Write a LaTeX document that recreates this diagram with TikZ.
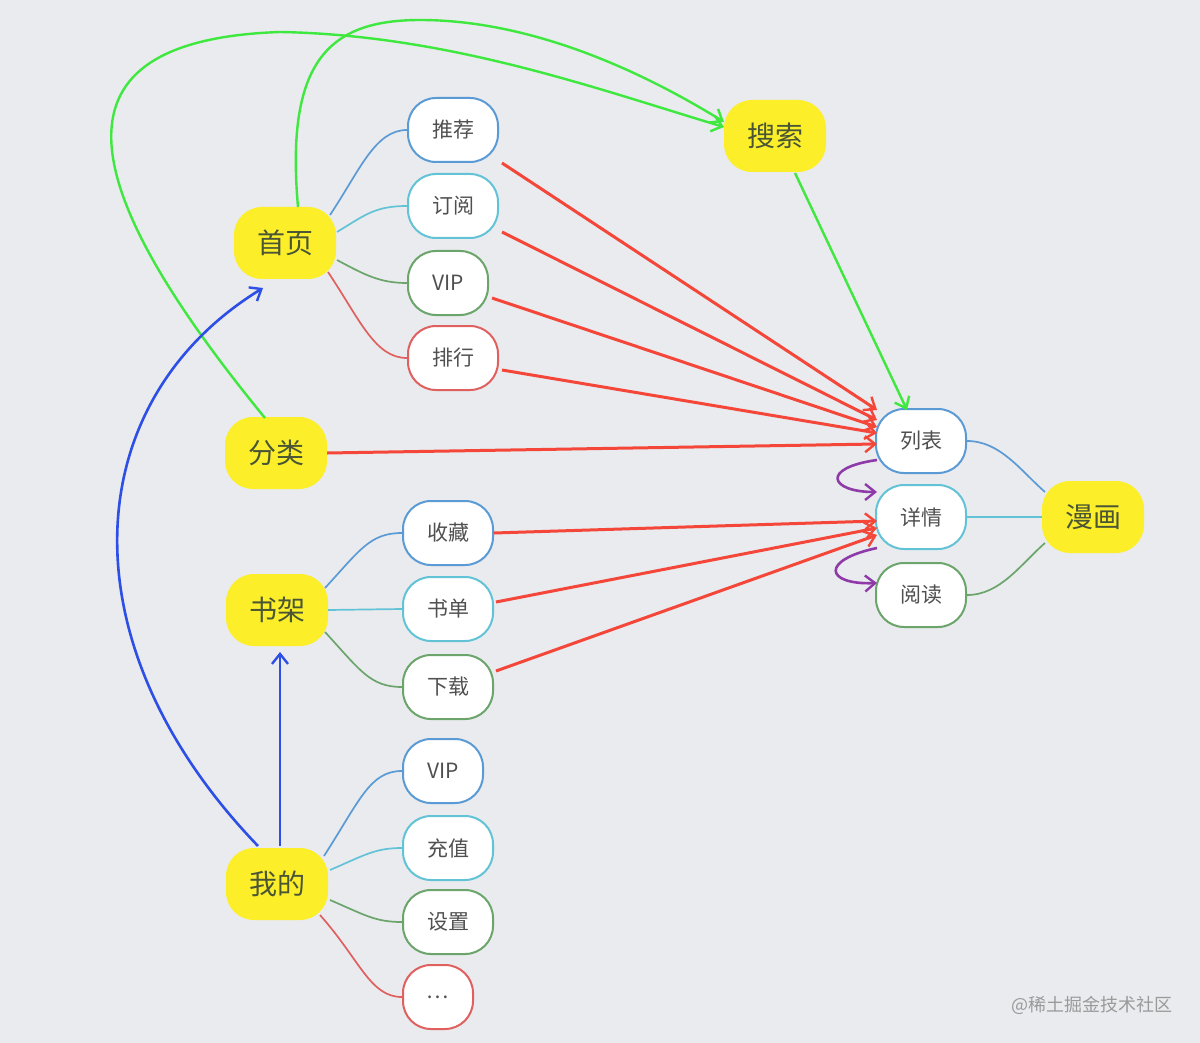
\documentclass[tikz,border=0pt]{standalone}
\usepackage{fontspec}
\setmainfont{Noto Sans CJK SC}
\usetikzlibrary{arrows.meta}
\definecolor{bg}{HTML}{E9EBEE}
\definecolor{yel}{HTML}{FCEF2A}
\definecolor{cblue}{HTML}{5B9BD5}
\definecolor{ccyan}{HTML}{62C3D6}
\definecolor{cgreen}{HTML}{6BA56B}
\definecolor{cred}{HTML}{E06060}
\definecolor{arred}{HTML}{F4473A}
\definecolor{argreen}{HTML}{3EE83E}
\definecolor{arblue}{HTML}{2D4FE6}
\definecolor{arpurple}{HTML}{8E3AA8}
\definecolor{tgray}{HTML}{505050}
\definecolor{tmain}{HTML}{4A5535}
\definecolor{wm}{HTML}{9A9A9A}
\tikzset{
  mainbox/.style={fill=yel, rounded corners=28pt, minimum width=102pt, minimum height=72pt, inner sep=0pt, font=\fontsize{28}{32}\selectfont, text=tmain},
  subbox/.style={fill=white, draw, line width=2pt, rounded corners=28pt, minimum width=90pt, minimum height=64pt, inner sep=0pt, font=\fontsize{21}{24}\selectfont, text=tgray},
  link/.style={line width=1.7pt},
  arr/.style={line width=3pt, -{Straight Barb[length=10pt,width=16pt,line width=2.4pt]}},
}
\begin{document}
\begin{tikzpicture}[x=1pt,y=-1pt]
\fill[bg] (0,0) rectangle (1200,1043);
\useasboundingbox (0,0) rectangle (1200,1043);
% main nodes
\node[mainbox] (home) at (285,243) {首页};
\node[mainbox] (ss) at (775,136) {搜索};
\node[mainbox] (fl) at (276,453) {分类};
\node[mainbox] (sj) at (277,610) {书架};
\node[mainbox] (wd) at (277,884) {我的};
\node[mainbox] (mh) at (1093,517) {漫画};
% sub nodes
\node[subbox, draw=cblue] (tj) at (453,130) {推荐};
\node[subbox, draw=ccyan] (dy) at (453,206) {订阅};
\node[subbox, draw=cgreen, minimum width=80pt] (vipa) at (448,283) {VIP};
\node[subbox, draw=cred] (ph) at (453,358) {排行};
\node[subbox, draw=cblue] (sc) at (448,533) {收藏};
\node[subbox, draw=ccyan] (sd) at (448,609) {书单};
\node[subbox, draw=cgreen] (xz) at (448,687) {下载};
\node[subbox, draw=cblue, minimum width=80pt] (vipb) at (443,771) {VIP};
\node[subbox, draw=ccyan] (cz) at (448,848) {充值};
\node[subbox, draw=cgreen] (sz) at (448,922) {设置};
\node[subbox, draw=cred, minimum width=70pt] (dots) at (438,997) {…};
\node[subbox, draw=cblue] (lb) at (921,441) {列表};
\node[subbox, draw=ccyan] (xq) at (921,517) {详情};
\node[subbox, draw=cgreen] (yd) at (921,595) {阅读};
% mind map links
\draw[link, cblue] ([shift={(45,-28)}]home.center) .. controls (360,170) and (375,130) .. (tj.west);
\draw[link, ccyan] ([shift={(52,-11)}]home.center) .. controls (365,215) and (375,206) .. (dy.west);
\draw[link, cgreen] ([shift={(52,17)}]home.center) .. controls (365,275) and (380,283) .. (vipa.west);
\draw[link, cred] ([shift={(43,29)}]home.center) .. controls (360,320) and (375,358) .. (ph.west);
\draw[link, cblue] ([shift={(48,-22)}]sj.center) .. controls (360,550) and (370,533) .. (sc.west);
\draw[link, ccyan] (sj.east) -- (sd.west);
\draw[link, cgreen] ([shift={(48,22)}]sj.center) .. controls (360,670) and (370,687) .. (xz.west);
\draw[link, cblue] ([shift={(47,-28)}]wd.center) .. controls (360,800) and (370,771) .. (vipb.west);
\draw[link, ccyan] ([shift={(53,-14)}]wd.center) .. controls (365,855) and (375,848) .. (cz.west);
\draw[link, cgreen] ([shift={(53,16)}]wd.center) .. controls (365,915) and (375,922) .. (sz.west);
\draw[link, cred] ([shift={(43,31)}]wd.center) .. controls (360,960) and (370,997) .. (dots.west);
\draw[link, cblue] (lb.east) .. controls (1000,441) and (1020,470) .. ([shift={(-48,-25)}]mh.center);
\draw[link, ccyan] (xq.east) -- (mh.west);
\draw[link, cgreen] (yd.east) .. controls (1000,595) and (1020,565) .. ([shift={(-48,26)}]mh.center);
% red arrows
\draw[arr, arred] ([shift={(49,33)}]tj.center) -- ([shift={(-44,-31)}]lb.center);
\draw[arr, arred] ([shift={(49,26)}]dy.center) -- ([shift={(-44,-21)}]lb.center);
\draw[arr, arred] ([shift={(44,15)}]vipa.center) -- ([shift={(-44,-14)}]lb.center);
\draw[arr, arred] ([shift={(49,12)}]ph.center) -- ([shift={(-44,-8)}]lb.center);
\draw[arr, arred] (fl.east) -- ([shift={(-44,3)}]lb.center);
\draw[arr, arred] (sc.east) -- ([shift={(-44,4)}]xq.center);
\draw[arr, arred] ([shift={(48,-7)}]sd.center) -- ([shift={(-44,11)}]xq.center);
\draw[arr, arred] ([shift={(48,-16)}]xz.center) -- ([shift={(-44,18)}]xq.center);
% green arrows
\draw[arr, argreen, line width=2.4pt] ([shift={(20,37)}]ss.center) -- ([shift={(-14,-31)}]lb.center);
\draw[arr, argreen, line width=2.4pt] ([shift={(-11,-35)}]fl.center) .. controls (70,180) and (45,40) .. (280,32) .. controls (450,35) and (600,90) .. ([shift={(-51,-9)}]ss.center);
\draw[arr, argreen, line width=2.4pt] ([shift={(13,-36)}]home.center) .. controls (285,60) and (330,20) .. (420,20) .. controls (530,20) and (640,70) .. ([shift={(-51,-14)}]ss.center);
% blue arrows
\draw[arr, arblue, line width=2.6pt] ([shift={(-19,-38)}]wd.center) .. controls (60,640) and (80,400) .. ([shift={(-22,45)}]home.center);
\draw[arr, arblue, line width=2.6pt] ([shift={(3,-38)}]wd.center) -- ([shift={(3,42)}]sj.center);
% purple arrows
\draw[arr, arpurple, line width=2.6pt] ([shift={(-44,19)}]lb.center) .. controls (820,468) and (830,492) .. ([shift={(-44,-25)}]xq.center);
\draw[arr, arpurple, line width=2.6pt] ([shift={(-44,31)}]xq.center) .. controls (820,560) and (825,585) .. ([shift={(-44,-12)}]yd.center);
% watermark
\node[text=wm, font=\fontsize{18}{20}\selectfont, anchor=center] (wmark) at (1092,1005) {@稀土掘金技术社区};
\end{tikzpicture}
\end{document}
